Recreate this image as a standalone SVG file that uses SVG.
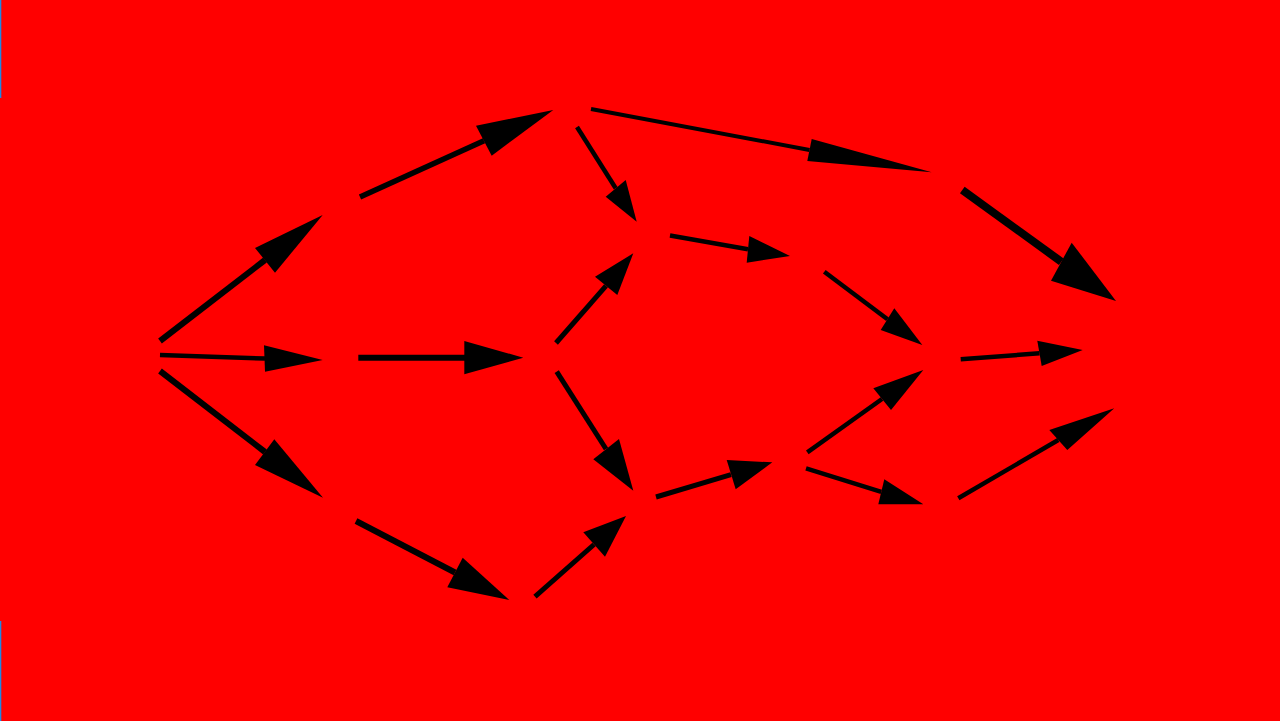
<svg xmlns="http://www.w3.org/2000/svg" width="1280" height="721" viewBox="0 0 1280 721">
<style>
.e line{stroke:#000;stroke-linecap:butt}
.e polygon{fill:#000}
</style>
<rect x="0" y="0" width="1280" height="721" fill="#ff0000"/>
<rect x="0" y="0" width="1.3" height="98" fill="#1e88e5"/>
<rect x="0" y="621" width="1.3" height="100" fill="#1e88e5"/>
<g id="connectors" class="e">
<g id="e1"><line x1="160" y1="341" x2="265" y2="260" stroke-width="6"/><polygon points="322.7,215 255,248 275,272.7"/></g>
<g id="e2"><line x1="160" y1="355" x2="265" y2="358.5" stroke-width="4.5"/><polygon points="322.7,360 264,345.3 265,371.7"/></g>
<g id="e3"><line x1="160" y1="371" x2="265" y2="452" stroke-width="6"/><polygon points="323,497.7 274.3,439.3 255,465"/></g>
<g id="e4"><line x1="360" y1="197" x2="484" y2="140.7" stroke-width="5.5"/><polygon points="553.3,110 476,125.7 491.7,155.7"/></g>
<g id="e5"><line x1="577" y1="127" x2="615.7" y2="188.3" stroke-width="4.5"/><polygon points="636.7,221.7 605.7,196.7 625.7,180"/></g>
<g id="e6"><line x1="591" y1="109" x2="809.5" y2="150" stroke-width="4"/><polygon points="931.7,172.3 811.7,139 807.3,161"/></g>
<g id="e7"><line x1="670" y1="235.5" x2="748" y2="249.3" stroke-width="4.5"/><polygon points="790,256 749.3,236 746.7,262.7"/></g>
<g id="e8"><line x1="556" y1="343" x2="606" y2="285.8" stroke-width="5"/><polygon points="633.3,253.3 595,276.7 617.3,295"/></g>
<g id="e9"><line x1="556.7" y1="371.7" x2="606" y2="449" stroke-width="5"/><polygon points="633.3,490.7 593.3,459.3 619,439"/></g>
<g id="e10"><line x1="656" y1="497" x2="731" y2="474.6" stroke-width="5"/><polygon points="772.3,462.3 726.7,460 735.7,489.3"/></g>
<g id="e11"><line x1="824.3" y1="271.7" x2="887.5" y2="319.2" stroke-width="4.5"/><polygon points="922.3,345 894.3,308.3 880.7,330"/></g>
<g id="e12"><line x1="962.3" y1="190" x2="1061.3" y2="261.7" stroke-width="8"/><polygon points="1116,301 1071.7,242.7 1051,280.7"/></g>
<g id="e13"><line x1="960.7" y1="359.3" x2="1039.5" y2="353.3" stroke-width="4.5"/><polygon points="1082.7,350 1037.3,340.7 1041.7,366"/></g>
<g id="e14"><line x1="807.3" y1="452.3" x2="882" y2="399" stroke-width="4.5"/><polygon points="923.3,370 873.3,388.3 891,410"/></g>
<g id="e15"><line x1="806" y1="468.3" x2="881.3" y2="491.8" stroke-width="4.5"/><polygon points="923.3,504.3 884.3,479.3 878.3,504.3"/></g>
<g id="e16"><line x1="958.3" y1="498.3" x2="1058.3" y2="440" stroke-width="4.5"/><polygon points="1114.3,408.3 1049.3,430 1067.3,450"/></g>
<g id="e17"><line x1="356" y1="521" x2="455" y2="572.5" stroke-width="6"/><polygon points="509.3,600 447.3,587.3 462.7,557.7"/></g>
<g id="e18"><line x1="535" y1="596.7" x2="594" y2="544.5" stroke-width="5"/><polygon points="626,516 583.3,532.3 605,556.7"/></g>
<g id="e19"><line x1="358.3" y1="357.7" x2="465" y2="357.7" stroke-width="6"/><polygon points="523.3,357.7 464.3,341 464.3,374.3"/></g>
</g>
</svg>
